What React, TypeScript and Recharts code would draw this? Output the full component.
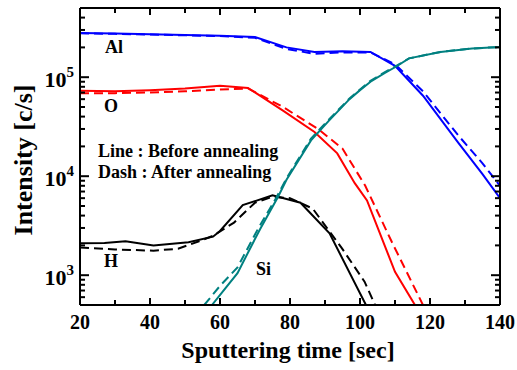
import { LineChart, Line, XAxis, YAxis } from "recharts";

// Sputtering time [sec] and intensity [c/s] per element, solid = before, dash = after annealing
const AL_T = [20, 30, 40, 50, 60, 70, 79, 87, 95, 103, 110, 118, 128, 135, 140];
const AL_BEFORE = [2.8e5, 2.76e5, 2.72e5, 2.67e5, 2.62e5, 2.55e5, 2.0e5, 1.8e5, 1.83e5, 1.8e5, 1.3e5, 6.5e4, 2.2e4, 1.05e4, 6e3];
const AL_AFTER = [2.78e5, 2.74e5, 2.7e5, 2.65e5, 2.6e5, 2.5e5, 1.93e5, 1.72e5, 1.78e5, 1.78e5, 1.35e5, 7.2e4, 2.6e4, 1.35e4, 8e3];

const O_T_BEFORE = [20, 30, 40, 50, 60, 68, 78, 87, 93.5, 98.5, 102, 110, 116];
const O_BEFORE = [7.3e4, 7.2e4, 7.4e4, 7.7e4, 8.2e4, 7.8e4, 4.6e4, 2.8e4, 1.7e4, 8.5e3, 5.7e3, 1.08e3, 4.8e2];
const O_T_AFTER = [20, 30, 40, 50, 60, 68, 78, 88, 95, 101.5, 109, 118.5];
const O_AFTER = [6.9e4, 6.9e4, 7.0e4, 7.2e4, 7.5e4, 7.7e4, 5.0e4, 3.0e4, 1.9e4, 8e3, 2.2e3, 4.6e2];

const SI_T_BEFORE = [57.7, 61, 65, 71.4, 76.6, 79, 86, 91, 97, 100, 103, 107, 110, 114, 123, 132, 140];
const SI_BEFORE = [500, 700, 1.05e3, 2.9e3, 6.2e3, 9.2e3, 2.3e4, 3.6e4, 6.0e4, 7.4e4, 9.0e4, 1.1e5, 1.26e5, 1.55e5, 1.8e5, 1.95e5, 2.02e5];
const SI_T_AFTER = [55.5, 60, 65, 71, 76, 79, 86, 91, 97, 100, 103, 107, 110, 114, 123, 132, 140];
const SI_AFTER = [500, 780, 1.2e3, 3.0e3, 6.0e3, 9.5e3, 2.4e4, 3.7e4, 6.1e4, 7.5e4, 9.2e4, 1.12e5, 1.28e5, 1.55e5, 1.8e5, 1.95e5, 2.02e5];

const H_T_BEFORE = [20, 27, 33, 41, 51, 58, 60, 66.5, 75, 83, 91.3, 101.7];
const H_BEFORE = [2.1e3, 2.12e3, 2.2e3, 2.0e3, 2.15e3, 2.45e3, 2.8e3, 5.1e3, 6.4e3, 5.4e3, 2.65e3, 5.0e2];
const H_T_AFTER = [20, 30, 41, 48, 54, 58, 64, 70, 75, 80, 86.5, 94.7, 101.3, 104.3];
const H_AFTER = [1.9e3, 1.82e3, 1.77e3, 1.85e3, 2.2e3, 2.5e3, 3.4e3, 5.4e3, 6.2e3, 6.0e3, 4.7e3, 1.9e3, 860, 500];

const X_TICKS = [20, 30, 40, 50, 60, 70, 80, 90, 100, 110, 120, 130, 140];
const X_MAJOR = [20, 40, 60, 80, 100, 120, 140];
const Y_TICKS = [
  600, 700, 800, 900, 1000, 2000, 3000, 4000, 5000, 6000, 7000, 8000, 9000,
  10000, 20000, 30000, 40000, 50000, 60000, 70000, 80000, 90000,
  100000, 200000, 300000, 400000,
];
const Y_MAJOR = [1000, 10000, 100000];

const zip = (t: number[], v: number[]) => t.map((x, i) => ({ t: x, v: v[i] }));

const FONT = "'Liberation Serif', 'DejaVu Serif', serif";
const BLUE = "#0000ff";
const RED = "#ff0000";
const TEAL = "#008080";
const DASH = "9 5";

function LeftTick({ x, y, payload }: any) {
  const major = Y_MAJOR.includes(payload.value);
  const exp = Math.round(Math.log10(payload.value));
  return (
    <g>
      <path d={`M${x},${y}h${major ? 9 : 5}`} stroke="#000" strokeWidth={2} fill="none" />
      {major && (
        <text x={x - 6} y={y + 10} textAnchor="end" fontFamily={FONT} fontWeight="bold" fontSize={22} fill="#000">
          10<tspan dy={-10} fontSize={15}>{exp}</tspan>
        </text>
      )}
    </g>
  );
}

function RightTick({ x, y, payload }: any) {
  const major = Y_MAJOR.includes(payload.value);
  return <path d={`M${x},${y}h${major ? -9 : -5}`} stroke="#000" strokeWidth={2} fill="none" />;
}

function BottomTick({ x, y, payload }: any) {
  const major = X_MAJOR.includes(payload.value);
  return (
    <g>
      <path d={`M${x},${y}v${major ? -7 : -5}`} stroke="#000" strokeWidth={2} fill="none" />
      {major && (
        <text x={x} y={y + 24} textAnchor="middle" fontFamily={FONT} fontWeight="bold" fontSize={20} fill="#000">
          {payload.value}
        </text>
      )}
    </g>
  );
}

function TopTick({ x, y, payload }: any) {
  const major = X_MAJOR.includes(payload.value);
  return <path d={`M${x},${y}v${major ? 7 : 5}`} stroke="#000" strokeWidth={2} fill="none" />;
}

export default function App() {
  return (
    <div style={{ position: "fixed", left: 0, top: 0, width: 517, height: 370, background: "#fff" }}>
      <LineChart width={517} height={370} margin={{ top: 7, right: 16, bottom: 0, left: 8 }}>
        <XAxis xAxisId="b" type="number" dataKey="t" domain={[20, 140]} ticks={X_TICKS} interval={0}
          allowDataOverflow orientation="bottom" height={65} tickSize={0} tickMargin={0}
          stroke="#000" strokeWidth={2} tickLine={false} tick={BottomTick} />
        <XAxis xAxisId="top" type="number" dataKey="t" domain={[20, 140]} ticks={X_TICKS} interval={0}
          allowDataOverflow orientation="top" height={1} tickSize={0} tickMargin={0}
          stroke="#000" strokeWidth={2} tickLine={false} tick={TopTick} />
        <YAxis yAxisId="l" type="number" scale="log" domain={[500, 500000]} ticks={Y_TICKS} interval={0}
          allowDataOverflow orientation="left" width={72} tickSize={0} tickMargin={0}
          stroke="#000" strokeWidth={2} tickLine={false} tick={LeftTick} />
        <YAxis yAxisId="r" type="number" scale="log" domain={[500, 500000]} ticks={Y_TICKS} interval={0}
          allowDataOverflow orientation="right" width={1} tickSize={0} tickMargin={0}
          stroke="#000" strokeWidth={2} tickLine={false} tick={RightTick} />

        <Line xAxisId="b" yAxisId="l" data={zip(AL_T, AL_AFTER)} dataKey="v" stroke={BLUE} strokeWidth={2}
          strokeDasharray={DASH} dot={false} type="linear" isAnimationActive={false} />
        <Line xAxisId="b" yAxisId="l" data={zip(AL_T, AL_BEFORE)} dataKey="v" stroke={BLUE} strokeWidth={2}
          dot={false} type="linear" isAnimationActive={false} />
        <Line xAxisId="b" yAxisId="l" data={zip(O_T_AFTER, O_AFTER)} dataKey="v" stroke={RED} strokeWidth={2}
          strokeDasharray={DASH} dot={false} type="linear" isAnimationActive={false} />
        <Line xAxisId="b" yAxisId="l" data={zip(O_T_BEFORE, O_BEFORE)} dataKey="v" stroke={RED} strokeWidth={2}
          dot={false} type="linear" isAnimationActive={false} />
        <Line xAxisId="b" yAxisId="l" data={zip(H_T_AFTER, H_AFTER)} dataKey="v" stroke="#000" strokeWidth={2}
          strokeDasharray={DASH} dot={false} type="linear" isAnimationActive={false} />
        <Line xAxisId="b" yAxisId="l" data={zip(H_T_BEFORE, H_BEFORE)} dataKey="v" stroke="#000" strokeWidth={2}
          dot={false} type="linear" isAnimationActive={false} />
        <Line xAxisId="b" yAxisId="l" data={zip(SI_T_AFTER, SI_AFTER)} dataKey="v" stroke={TEAL} strokeWidth={2}
          strokeDasharray={DASH} dot={false} type="linear" isAnimationActive={false} />
        <Line xAxisId="b" yAxisId="l" data={zip(SI_T_BEFORE, SI_BEFORE)} dataKey="v" stroke={TEAL} strokeWidth={2}
          dot={false} type="linear" isAnimationActive={false} />
      </LineChart>

      <svg width={517} height={370} style={{ position: "absolute", left: 0, top: 0, pointerEvents: "none" }}
        fontFamily={FONT} fontWeight="bold" fill="#000">
        <text x={105} y={53} fontSize={18}>Al</text>
        <text x={104} y={112} fontSize={18}>O</text>
        <text x={104} y={267} fontSize={18}>H</text>
        <text x={256} y={275} fontSize={18}>Si</text>
        <text x={98} y={157} fontSize={18}>Line : Before annealing</text>
        <text x={98} y={178} fontSize={18}>Dash : After annealing</text>
        <text x={288} y={358} fontSize={24} textAnchor="middle">Sputtering time [sec]</text>
        <text transform="translate(32,160) rotate(-90)" fontSize={26} textAnchor="middle">Intensity [c/s]</text>
      </svg>
    </div>
  );
}
